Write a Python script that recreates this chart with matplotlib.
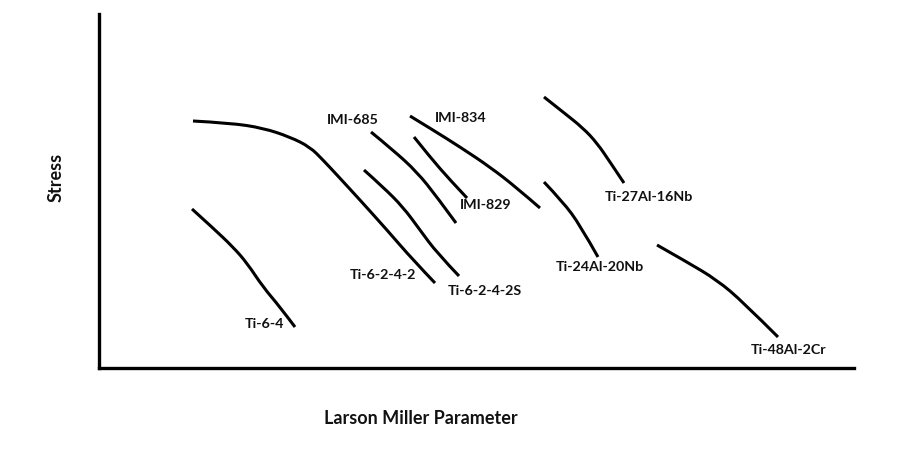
import matplotlib
matplotlib.use("Agg")
import matplotlib.pyplot as plt
from matplotlib.path import Path
from matplotlib.patches import PathPatch

# Data (arbitrary units: Larson-Miller parameter vs stress)
ti64_x = [93, 114, 134, 148, 164, 181, 196]
ti64_y = [159, 140, 121, 105, 81, 61, 41]
ti6242_x = [94, 131, 164, 191, 211, 224, 238, 261, 288, 314, 336]
ti6242_y = [247, 245, 240, 231, 221, 208, 193, 168, 138, 108, 85]
ti6242s_x = [265, 284, 304, 321, 338, 360]
ti6242s_y = [198, 181, 161, 138, 115, 92]
imi685_x = [272, 294, 318, 338, 357]
imi685_y = [236, 218, 196, 171, 145]
imi829_x = [315, 331, 351, 368]
imi829_y = [231, 211, 188, 170]
imi834_x = [311, 334, 361, 391, 418, 441]
imi834_y = [252, 238, 221, 201, 180, 160]
ti27al_x = [445, 464, 484, 498, 511, 525]
ti27al_y = [271, 256, 240, 225, 206, 185]
ti24al_x = [445, 464, 481, 499]
ti24al_y = [186, 166, 143, 111]
ti48al_x = [558, 588, 618, 644, 679]
ti48al_y = [123, 106, 88, 66, 31]

labels = ["Ti-6-4", "Ti-6-2-4-2", "Ti-6-2-4-2S", "IMI-685", "IMI-834",
          "IMI-829", "Ti-27Al-16Nb", "Ti-24Al-20Nb", "Ti-48Al-2Cr"]
label_x = [165, 284, 386, 254, 362, 387, 550, 501, 690]
label_y = [44, 93, 77, 248, 250, 163, 171, 101, 18]

curves = [(ti64_x, ti64_y), (ti6242_x, ti6242_y), (ti6242s_x, ti6242s_y),
          (imi685_x, imi685_y), (imi829_x, imi829_y), (imi834_x, imi834_y),
          (ti27al_x, ti27al_y), (ti24al_x, ti24al_y), (ti48al_x, ti48al_y)]

plt.rcParams['font.family'] = ['Lato', 'DejaVu Sans']

fig = plt.figure(figsize=(9.07, 4.54), dpi=100)
ax = fig.add_axes([99 / 907, (454 - 368) / 454, 755 / 907, 354 / 454])
ax.set_xlim(0, 755)
ax.set_ylim(0, 354)


def smooth_path(xs, ys):
    pts = list(zip(xs, ys))
    verts = [pts[0]]
    codes = [Path.MOVETO]
    n = len(pts)
    for i in range(1, n - 1):
        nxt = pts[i + 1]
        if i < n - 2:
            end = ((pts[i][0] + nxt[0]) / 2, (pts[i][1] + nxt[1]) / 2)
        else:
            end = nxt
        verts += [pts[i], end]
        codes += [Path.CURVE3, Path.CURVE3]
    if n == 2:
        verts.append(pts[1])
        codes.append(Path.LINETO)
    return Path(verts, codes)


for cx, cy in curves:
    ax.add_patch(PathPatch(smooth_path(cx, cy), facecolor='none',
                           edgecolor='black', lw=2.2, capstyle='butt'))

for t, lx, ly in zip(labels, label_x, label_y):
    ax.text(lx, ly, t, ha='center', va='center', fontsize=10.3,
            fontweight='bold', color='#111111')

for s in ['top', 'right']:
    ax.spines[s].set_visible(False)
for s in ['left', 'bottom']:
    ax.spines[s].set_linewidth(2.4)
ax.set_xticks([])
ax.set_yticks([])

fig.text(421 / 907, 1 - 418 / 454, "Larson Miller Parameter", ha='center',
         va='center', fontsize=13, fontweight='bold', color='#111111')
fig.text(56 / 907, 1 - 177 / 454, "Stress", ha='center', va='center',
         rotation=90, fontsize=13, fontweight='bold', color='#111111')

fig.savefig("out.png", dpi=100)
